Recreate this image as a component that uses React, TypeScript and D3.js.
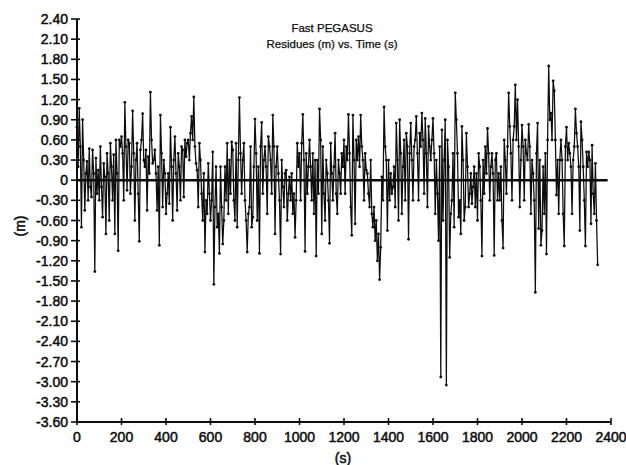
import React from 'react';
import * as d3 from 'd3';

const TITLE_LINES = ['Fast PEGASUS', 'Residues (m) vs. Time (s)'];
const X_LABEL = '(s)';
const Y_LABEL = '(m)';
const X_TICKS = [0, 200, 400, 600, 800, 1000, 1200, 1400, 1600, 1800, 2000, 2200, 2400];
const Y_TICKS = [2.4, 2.1, 1.8, 1.5, 1.2, 0.9, 0.6, 0.3, 0, -0.3, -0.6, -0.9, -1.2, -1.5, -1.8, -2.1, -2.4, -2.7, -3.0, -3.3, -3.6];
const Y_TICK_LABELS = ['2.40', '2.10', '1.80', '1.50', '1.20', '0.90', '0.60', '0.30', '0', '-0.30', '-0.60', '-0.90', '-1.20', '-1.50', '-1.80', '-2.10', '-2.40', '-2.70', '-3.00', '-3.30', '-3.60'];
const X_DOMAIN = [0, 2400];
const Y_DOMAIN = [-3.6, 2.4];
const ZERO_LINE_END_S = 2385;

// sampling interval of the residue series (s)
const SAMPLE_INTERVAL_S = 5;

// residues (m), one value per sample (rows of 50 s)
const RESIDUES = [
  0.79, 0.2, 1.07, 0.5, -0.7, 0.9, 0.3, -0.45, 0.1, 0.28, // 0
  -0.3, 0.47, -0.1, -0.25, 0.45, 0.1, -1.36, 0.33, -0.2, 0.15, // 50
  -0.3, 0.5, -0.1, -0.55, 0.25, 0.05, -0.8, 0.4, 0.1, -0.6, // 100
  0.55, 0.2, -0.3, 0.38, -0.8, 0.6, 0.1, -1.05, 0.6, 0.5, // 150
  0.65, 0.4, -0.3, 1.16, 0.5, -0.15, 0.6, 0.55, -0.2, 0.2, // 200
  1.03, 0.4, -0.6, 0.3, 0.55, -0.2, -0.91, 0.45, 0.6, 0.99, // 250
  0.3, 0.2, 0.45, -0.45, 0.35, 0.1, 1.31, 0.6, 0.25, 0.3, // 300
  0.45, 0.1, -0.45, 0.2, -0.97, 0.97, 0.4, -0.4, 0.3, 0.1, // 350
  -0.5, -0.2, 0.1, -0.35, 0.79, 0.2, -0.6, 0.3, 0.65, 0.1, // 400
  -0.45, 0.4, 0.2, -0.3, 0.5, 0.45, -0.25, 0.6, 0.35, 0.55, // 450
  0.6, 0.3, 0.7, 0.95, 0.6, 1.24, 0.5, 0.25, 0.15, -0.4, // 500
  0.55, 0.3, -0.2, -0.6, 0.1, -1.07, -0.3, -0.5, 0.25, -0.2, // 550
  -0.6, -0.3, 0.42, -1.55, -0.4, 0.2, -0.7, -0.5, -1.09, 0.2, // 600
  -0.4, -0.95, -0.6, 0.2, -0.3, 0.55, -0.5, 0.3, -0.2, 0.57, // 650
  0.45, -0.3, -0.6, 0.55, -0.7, 0.3, 1.23, 0.4, -0.2, 0.3, // 700
  0.55, -0.3, -0.6, -1.07, -0.5, -0.4, 0.5, -0.7, -0.55, 0.2, // 750
  0.91, 0.4, -0.6, 0.2, -1.09, 0.5, 0.86, -0.2, 0.3, 0.5, // 800
  0.2, -0.5, 0.65, 0.5, 0.3, -0.2, 0.97, 0.5, -0.8, 0.2, // 850
  0.5, 0.1, -0.3, -1.1, 0.3, -0.1, -0.4, 0.1, 0.15, -0.6, // 900
  -0.2, 0.05, -0.3, 0.1, -0.5, -0.2, -0.85, -0.3, 0.55, 0.2, // 950
  0.4, -0.3, 0.55, 0.98, 0.3, -1.06, 0.4, -0.2, 0.2, 0.6, // 1000
  0.2, -0.3, 0.4, -0.5, 0.3, -1.13, 0.3, -0.2, 1.06, 0.6, // 1050
  -0.8, 0.5, -0.2, -0.6, 0.3, 0.1, -0.3, -0.94, 0.55, 0.1, // 1100
  -0.3, 0.2, 0.7, -0.2, -0.5, 0.3, 0.1, -0.2, 0.4, 0.2, // 1150
  0.6, -0.2, 0.5, 0.3, 0.98, 0.4, -0.4, -0.82, 0.97, 0.3, // 1200
  -0.65, 0.6, 0.3, 0.65, 0.2, 0.97, 0.5, 0.3, -0.3, 0.4, // 1250
  0.15, 0.1, -0.2, -0.4, 0.3, -0.5, -0.7, -0.4, -0.9, -0.6, // 1300
  -1.2, -0.8, -1.48, -1.0, 0.05, -0.3, 1.09, 0.5, 0.3, -0.75, // 1350
  0.3, -0.3, 0.1, -0.2, -0.1, 0.2, -0.4, 0.85, 0.3, -0.6, // 1400
  0.9, 0.4, -0.5, 0.2, 0.6, -0.3, 0.7, 0.5, -0.88, 0.4, // 1450
  0.85, 0.3, -0.3, 0.5, 0.6, 0.95, 0.4, -0.3, 0.7, 0.5, // 1500
  1.0, 0.6, -0.2, 0.92, 0.4, -0.4, 0.8, 0.5, 0.3, 0.6, // 1550
  0.92, 0.4, -0.5, 0.3, -0.2, -0.9, 0.5, -2.93, 0.75, -0.6, // 1600
  0.3, 0.9, -3.05, 0.6, 0.2, -1.15, -0.5, -0.3, 0.4, -0.7, // 1650
  1.3, 0.9, 0.4, -0.55, -0.3, -0.8, 0.8, 0.3, -0.6, -0.4, // 1700
  0.7, 0.2, -0.4, -0.2, 0.1, -0.35, -0.1, 0.2, -0.4, 0.1, // 1750
  -0.6, 0.4, 0.2, -0.3, -1.13, 0.3, -0.2, 0.5, 0.1, 0.77, // 1800
  0.4, -0.3, 0.2, 0.4, 0.1, -1.12, 0.3, 0.4, -0.3, 0.1, // 1850
  -0.3, 0.2, -0.6, -1.01, 0.6, 0.3, -0.2, 0.5, 1.3, 0.8, // 1900
  0.4, -0.3, 0.6, 0.8, 1.42, 0.6, 1.2, 0.5, -0.4, 0.3, // 1950
  0.82, 0.5, -0.3, 0.6, 0.4, 0.3, 0.83, 0.5, -0.5, 0.3, // 2000
  0.1, -0.3, -1.67, 0.4, 0.85, -0.72, 0.3, -0.97, -0.75, 0.2, // 2050
  -0.5, 0.4, -1.1, 0.6, 1.7, 0.9, 1.0, 0.6, 1.48, 1.33, // 2100
  0.6, -0.22, 0.3, -0.5, 0.3, 0.6, 0.3, -0.5, -0.98, 0.5, // 2150
  0.79, 0.3, 0.55, 0.4, 0.2, -0.5, 0.3, 0.5, 1.06, 0.7, // 2200
  0.5, 0.2, -0.75, 0.87, 0.6, 0.2, -0.3, -0.98, 0.42, 0.2, // 2250
  0.42, 0.3, -0.65, 0.52, -0.2, -0.5, 0.25, -0.6, -1.26, // 2300
];

const FONT = '"Liberation Sans", Arial, Helvetica, sans-serif';
const INK = '#0d0d0d';

export default function App() {
  const W = 626;
  const H = 465;
  const left = 77;
  const right = 611;
  const top = 19;
  const bottom = 422;

  const x = d3.scaleLinear().domain(X_DOMAIN).range([left, right]);
  const y = d3.scaleLinear().domain(Y_DOMAIN).range([bottom, top]);

  const pts: [number, number][] = RESIDUES.map((v, i) => [i * SAMPLE_INTERVAL_S, v]);
  const line = d3
    .line<[number, number]>()
    .x((d) => x(d[0]))
    .y((d) => y(d[1]));

  const textStyle = { stroke: INK, strokeWidth: 0.5 };

  return (
    <svg
      width={W}
      height={H}
      viewBox={`0 0 ${W} ${H}`}
      style={{ position: 'absolute', left: 0, top: 0, background: '#fff' }}
    >
      <rect x={0} y={0} width={W} height={H} fill="#fff" />
      {/* title */}
      {TITLE_LINES.map((t, i) => (
        <text
          key={t}
          x={332}
          y={32 + i * 16}
          textAnchor="middle"
          fontFamily={FONT}
          fontSize={11.5}
          fill={INK}
          style={{ stroke: INK, strokeWidth: 0.25 }}
        >
          {t}
        </text>
      ))}

      {/* data */}
      <path d={line(pts) || ''} fill="none" stroke={INK} strokeWidth={1.25} />
      {pts.map((d, i) => (
        <circle key={i} cx={x(d[0])} cy={y(d[1])} r={1.4} fill={INK} />
      ))}

      {/* zero line */}
      <line x1={x(0)} x2={x(ZERO_LINE_END_S)} y1={y(0)} y2={y(0)} stroke={INK} strokeWidth={2.6} />

      {/* y axis */}
      <line x1={left} x2={left} y1={top} y2={bottom} stroke={INK} strokeWidth={2} />
      {Y_TICKS.map((v, i) => (
        <g key={v}>
          <line x1={left - 6} x2={left + 3} y1={y(v)} y2={y(v)} stroke={INK} strokeWidth={1.6} />
          <text
            x={left - 9}
            y={y(v)}
            dy="0.36em"
            textAnchor="end"
            fontFamily={FONT}
            fontSize={14}
            fill={INK}
            style={textStyle}
          >
            {Y_TICK_LABELS[i]}
          </text>
        </g>
      ))}

      {/* x axis */}
      <line x1={left} x2={right} y1={bottom} y2={bottom} stroke={INK} strokeWidth={2.2} />
      {X_TICKS.map((v) => (
        <g key={v}>
          <line x1={x(v)} x2={x(v)} y1={bottom - 4} y2={bottom + 3} stroke={INK} strokeWidth={1.6} />
          <text
            x={x(v)}
            y={bottom + 20}
            textAnchor="middle"
            fontFamily={FONT}
            fontSize={14}
            fill={INK}
            style={textStyle}
          >
            {v}
          </text>
        </g>
      ))}

      {/* axis titles */}
      <text x={343} y={463} textAnchor="middle" fontFamily={FONT} fontSize={14} fill={INK} style={textStyle}>
        {X_LABEL}
      </text>
      <text
        transform={`translate(25, 226) rotate(-90)`}
        textAnchor="middle"
        fontFamily={FONT}
        fontSize={14}
        fill={INK}
        style={textStyle}
      >
        {Y_LABEL}
      </text>
    </svg>
  );
}
